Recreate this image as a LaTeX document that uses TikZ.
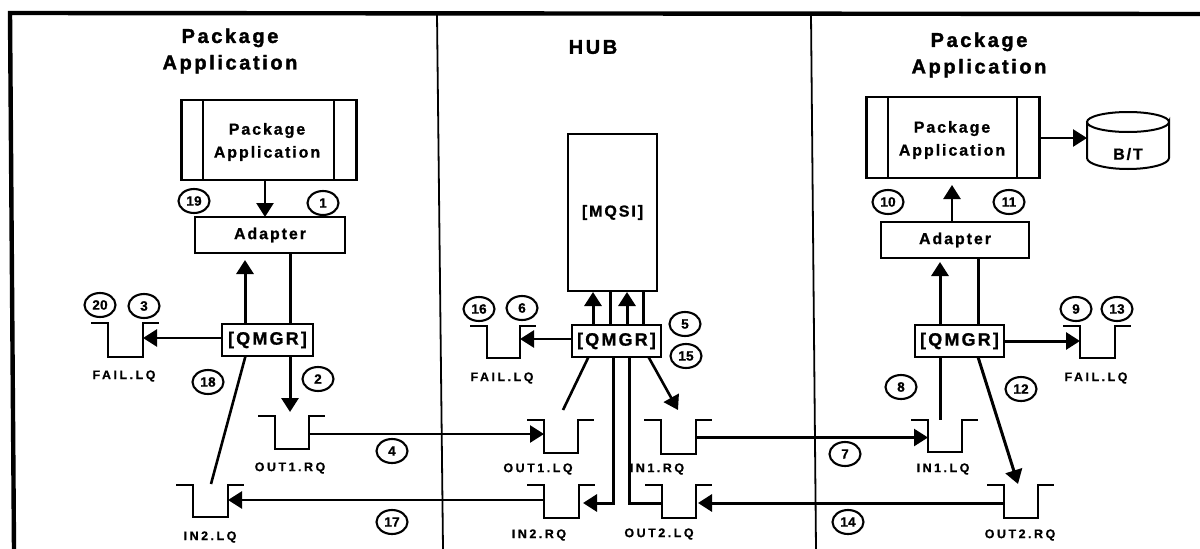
\documentclass[tikz,border=0pt]{standalone}
\usepackage{fontspec}
\setmainfont{Liberation Sans}
\newfontfamily\fTitle[LetterSpace=13,BoldFeatures={FakeBold=1.6}]{Liberation Sans}
\newfontfamily\fBox[LetterSpace=12,BoldFeatures={FakeBold=1}]{Liberation Sans}
\newfontfamily\fQ[LetterSpace=20,BoldFeatures={FakeBold=0.6}]{Liberation Sans}
\newfontfamily\fNum[LetterSpace=2,BoldFeatures={FakeBold=1}]{Liberation Sans}
\usetikzlibrary{arrows.meta,shapes.geometric}
\tikzset{
  title/.style={font=\fTitle\bfseries\fontsize{20}{26.5}\selectfont,align=center,inner sep=0pt},
  boxlabel/.style={font=\fBox\bfseries\fontsize{16}{23}\selectfont,align=center,inner sep=0pt},
  qlabel/.style={font=\fQ\bfseries\fontsize{12.5}{14}\selectfont,inner sep=0pt},
  conn/.style={line width=2.6pt},
  heavy/.style={line width=3pt},
  tip/.style={-{Triangle[length=14pt,width=17pt]}},
  appbox/.style={draw,line width=2.6pt,inner sep=0pt,outer sep=0pt,font=\fBox\bfseries\fontsize{16}{23}\selectfont,align=center},
  mgr/.style={draw,line width=2pt,inner sep=0pt,outer sep=0pt,font=\fBox\bfseries\fontsize{18}{20}\selectfont},
  qbody/.style={inner sep=0pt,outer sep=0pt},
  qline/.style={line width=2pt},
  num/.style={draw,ellipse,line width=2.1pt,minimum width=31pt,minimum height=24pt,inner sep=0pt,font=\fNum\bfseries\fontsize{13.5}{14}\selectfont},
  divider/.style={line width=1.8pt},
  frameline/.style={line width=4.4pt}
}
\newcommand{\queue}[5]{% name, xleft, ytop, xright, ybottom
  \node[qbody,minimum width=#4pt-#2pt,minimum height=#5pt-#3pt] (#1) at ({(#2+#4)/2},{(#3+#5)/2}) {};
  \draw[qline] ([xshift=-17pt]#1.north west) -- (#1.north west) -- (#1.south west) -- (#1.south east) -- (#1.north east) -- ([xshift=16pt]#1.north east);
}
\begin{document}
\begin{tikzpicture}[x=1pt,y=-1pt]
\useasboundingbox (0,0) rectangle (1200,549);
\fill[white] (0,0) rectangle (1200,549);
% frame
\coordinate (ftl) at (10,13); \coordinate (ftr) at (1200,14); \coordinate (fbl) at (14,549);
\draw[frameline] (fbl) -- (ftl) -- (ftr);
\coordinate (d1t) at (437,14); \coordinate (d1b) at (443,549);
\coordinate (d2t) at (811,14); \coordinate (d2b) at (816,549);
\draw[divider] (d1t) -- (d1b);
\draw[divider] (d2t) -- (d2b);
% titles
\node[title] (t1) at (230,51) {Package\\Application};
\node[title] (t2) at (593,47) {HUB};
\node[title] (t3) at (979,55) {Package\\Application};
% left column
\node[appbox,minimum width=175pt,minimum height=80pt] (appL) at (269,140) {};
\draw[line width=2.8pt] (203,100) -- (203,180) (334,100) -- (334,180);
\node[boxlabel] (appLt) at (267,142) {Package\\Application};
\node[appbox,minimum width=150pt,minimum height=36pt] (adL) at (270,235) {Adapter};
\node[mgr,minimum width=91pt,minimum height=32pt] (mgrL) at (267.5,340) {[QMGR]};
\queue{failL}{108}{323}{143}{357}
\queue{out1r}{275}{416}{309}{449}
\queue{in2l}{193}{485}{228}{517}
% hub
\node[draw,line width=2pt,inner sep=0pt,outer sep=0pt,minimum width=89pt,minimum height=157pt,font=\fBox\bfseries\fontsize{16}{18}\selectfont] (mqsi) at (612.5,212.5) {[MQSI]};
\node[mgr,minimum width=89pt,minimum height=32pt] (mgrH) at (616.5,341) {[QMGR]};
\queue{failH}{487}{326}{520}{358}
\queue{out1l}{544}{420}{578}{453}
\queue{in2r}{544}{485}{579}{518}
\queue{in1r}{661}{420}{696}{454}
\queue{out2l}{662}{485}{696}{518}
% right column
\node[appbox,minimum width=173pt,minimum height=81pt] (appR) at (953,137.5) {};
\draw[line width=2.8pt] (888,97) -- (888,178) (1017,97) -- (1017,178);
\node[boxlabel] (appRt) at (952,140) {Package\\Application};
\node[appbox,minimum width=148pt,minimum height=36pt] (adR) at (955,240) {Adapter};
\node[mgr,minimum width=89pt,minimum height=32pt] (mgrR) at (959.5,341) {[QMGR]};
\queue{failR}{1080}{326}{1115}{358}
\queue{in1l}{928}{420}{962}{452}
\queue{out2r}{1004}{485}{1038}{518}
% cylinder
\node[inner sep=0pt,outer sep=0pt,minimum width=82pt,minimum height=57pt] (bt) at (1128,141) {};
\draw[line width=2pt] (1087,122) -- (1087,158) arc[start angle=180,end angle=360,x radius=41pt,y radius=11pt] -- (1169,122) arc[start angle=0,end angle=-180,x radius=41pt,y radius=10pt] arc[start angle=180,end angle=0,x radius=41pt,y radius=10pt];
\node[font=\fBox\bfseries\fontsize{16}{18}\selectfont,inner sep=0pt] (btt) at (1128,154) {B/T};
% queue labels
\node[qlabel] (l1) at (124,376) {FAIL.LQ};
\node[qlabel] (l2) at (290,468) {OUT1.RQ};
\node[qlabel] (l3) at (210,537) {IN2.LQ};
\node[qlabel] (l4) at (502,378) {FAIL.LQ};
\node[qlabel] (l5) at (538,469) {OUT1.LQ};
\node[qlabel] (l6) at (539,535) {IN2.RQ};
\node[qlabel] (l7) at (657,469) {IN1.RQ};
\node[qlabel] (l8) at (659,534) {OUT2.LQ};
\node[qlabel] (l9) at (1096,378) {FAIL.LQ};
\node[qlabel] (l10) at (943,469) {IN1.LQ};
\node[qlabel] (l11) at (1020,535) {OUT2.RQ};
% number circles
\node[num] (n19) at (194,201) {19};
\node[num] (n1) at (323,203) {1};
\node[num] (n20) at (100,305) {20};
\node[num] (n3) at (144,306) {3};
\node[num] (n18) at (208,382) {18};
\node[num] (n2) at (318,379) {2};
\node[num] (n4) at (392,451) {4};
\node[num] (n17) at (392,522) {17};
\node[num] (n16) at (479,309) {16};
\node[num] (n6) at (522,308) {6};
\node[num] (n5) at (685,324) {5};
\node[num] (n15) at (686,356) {15};
\node[num] (n7) at (845,454) {7};
\node[num] (n14) at (848,522) {14};
\node[num] (n8) at (901,387) {8};
\node[num] (n12) at (1021,389) {12};
\node[num] (n9) at (1076,309) {9};
\node[num] (n13) at (1117,309) {13};
\node[num] (n10) at (888,202) {10};
\node[num] (n11) at (1009,202) {11};
% levels of the horizontal connectors
\coordinate (yFL) at (0,338); \coordinate (y4) at (0,434); \coordinate (y17) at (0,500);
\coordinate (yFH) at (0,339); \coordinate (y7) at (0,437.5); \coordinate (y14) at (0,503);
\coordinate (yFR) at (0,341); \coordinate (yBT) at (0,138);
% left connectors
\draw[conn,tip] ([xshift=-4pt]appL.south) -- ([xshift=-4pt]adL.north -| appL.south);
\coordinate (upL) at (245,260);
\draw[heavy,tip] (mgrL.north -| upL) -- (upL);
\draw[heavy] ([xshift=20pt]adL.south) -- ([xshift=20pt]adL.south |- mgrL.north);
\draw[conn,tip] (mgrL.west |- yFL) -- (failL.east |- yFL);
\coordinate (t2L) at (290,412);
\draw[heavy,tip] (mgrL.south -| t2L) -- (t2L);
\coordinate (e18) at (211,484);
\draw[conn] ([xshift=-22pt]mgrL.south) -- (e18);
\draw[conn,tip] (out1r.east |- y4) -- (out1l.west |- y4);
\draw[conn,tip] (in2r.west |- y17) -- (in2l.east |- y17);
% hub connectors
\draw[conn,tip] (mgrH.west |- yFH) -- (failH.east |- yFH);
\coordinate (a1) at (593,292); \coordinate (a2) at (627,292);
\coordinate (b1) at (610,291); \coordinate (b2) at (643,291);
\draw[heavy,tip] (mgrH.north -| a1) -- (a1);
\draw[heavy,tip] (mgrH.north -| a2) -- (a2);
\draw[heavy] (mgrH.north -| b1) -- (b1);
\draw[heavy] (mgrH.north -| b2) -- (b2);
\coordinate (e5) at (563,410);
\draw[conn] ([xshift=-28pt]mgrH.south) -- (e5);
\coordinate (t15) at (678,410);
\draw[conn,tip] ([xshift=32pt]mgrH.south) -- (t15);
\draw[heavy,tip] ([xshift=-3.5pt]mgrH.south) |- ([xshift=4pt]in2r.east |- y14);
\draw[heavy] ([xshift=12.5pt]mgrH.south) |- (out2l.west |- y14);
\draw[conn,tip] (in1r.east |- y7) -- (in1l.west |- y7);
\draw[heavy,tip] (out2r.west |- y14) -- ([xshift=2pt]out2l.east |- y14);
% right connectors
\draw[conn,tip] ([xshift=-3pt]adR.north) -- ([xshift=-3pt,yshift=-7pt]adR.north |- appR.south);
\coordinate (upR) at (940,262);
\draw[heavy,tip] (mgrR.north -| upR) -- (upR);
\draw[heavy] ([xshift=23pt]adR.south) -- ([xshift=23pt]adR.south |- mgrR.north);
\draw[heavy,tip] (mgrR.east |- yFR) -- (failR.west |- yFR);
\coordinate (e8) at (940.5,420);
\draw[heavy] (mgrR.south -| e8) -- (e8);
\coordinate (t12) at (1018,484);
\draw[heavy,tip] ([xshift=18.5pt]mgrR.south) -- (t12);
\draw[conn,tip] (appR.east |- yBT) -- (bt.west |- yBT);
\end{tikzpicture}
\end{document}
